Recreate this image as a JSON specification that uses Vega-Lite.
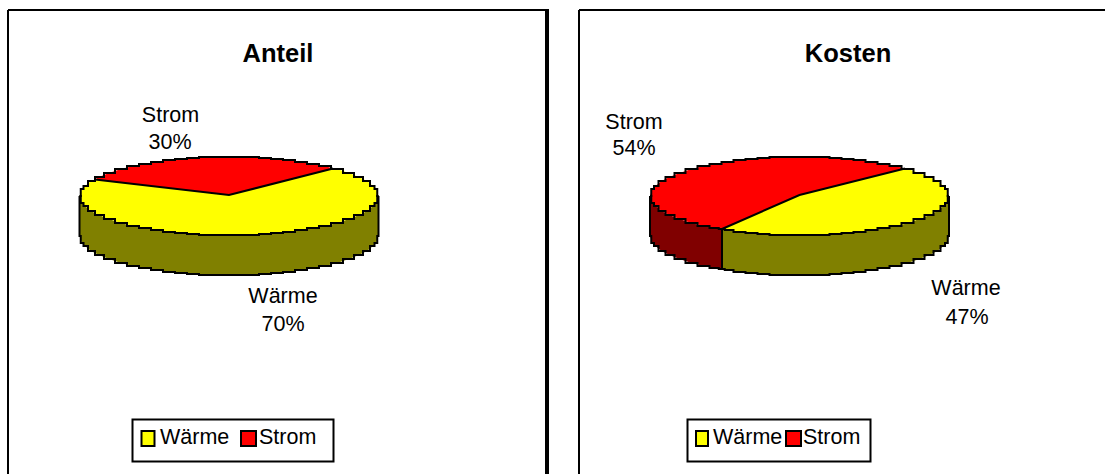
{"$schema":"https://vega.github.io/schema/vega-lite/v6.json","width":1105,"height":474,"autosize":{"type":"none"},"padding":0,"background":"white","config":{"view":{"stroke":null},"font":"Liberation Sans"},
"datasets":{
"slices":[
{"p":"Anteil","part":"Wärme Seite","x":79.5,"y":196,"y2":236},{"p":"Anteil","part":"Wärme Seite","x":82,"y":203,"y2":243},{"p":"Anteil","part":"Wärme Seite","x":85,"y":206,"y2":246},{"p":"Anteil","part":"Wärme Seite","x":91,"y":211,"y2":251},{"p":"Anteil","part":"Wärme Seite","x":99,"y":215,"y2":255},{"p":"Anteil","part":"Wärme Seite","x":109,"y":219,"y2":259},{"p":"Anteil","part":"Wärme Seite","x":121,"y":223,"y2":263},{"p":"Anteil","part":"Wärme Seite","x":133,"y":226,"y2":266},{"p":"Anteil","part":"Wärme Seite","x":145,"y":228,"y2":268},{"p":"Anteil","part":"Wärme Seite","x":157,"y":230,"y2":270},{"p":"Anteil","part":"Wärme Seite","x":169,"y":232,"y2":272},{"p":"Anteil","part":"Wärme Seite","x":181,"y":233,"y2":273},{"p":"Anteil","part":"Wärme Seite","x":193,"y":234,"y2":274},{"p":"Anteil","part":"Wärme Seite","x":205,"y":235,"y2":275},{"p":"Anteil","part":"Wärme Seite","x":217,"y":235,"y2":275},{"p":"Anteil","part":"Wärme Seite","x":229,"y":235,"y2":275},{"p":"Anteil","part":"Wärme Seite","x":241,"y":235,"y2":275},{"p":"Anteil","part":"Wärme Seite","x":253,"y":235,"y2":275},{"p":"Anteil","part":"Wärme Seite","x":265,"y":234,"y2":274},{"p":"Anteil","part":"Wärme Seite","x":277,"y":233,"y2":273},{"p":"Anteil","part":"Wärme Seite","x":289,"y":232,"y2":272},{"p":"Anteil","part":"Wärme Seite","x":301,"y":230,"y2":270},{"p":"Anteil","part":"Wärme Seite","x":313,"y":228,"y2":268},{"p":"Anteil","part":"Wärme Seite","x":325,"y":226,"y2":266},{"p":"Anteil","part":"Wärme Seite","x":337,"y":223,"y2":263},{"p":"Anteil","part":"Wärme Seite","x":349,"y":219,"y2":259},{"p":"Anteil","part":"Wärme Seite","x":359,"y":215,"y2":255},{"p":"Anteil","part":"Wärme Seite","x":367,"y":211,"y2":251},{"p":"Anteil","part":"Wärme Seite","x":373,"y":206,"y2":246},{"p":"Anteil","part":"Wärme Seite","x":376,"y":203,"y2":243},{"p":"Anteil","part":"Wärme Seite","x":378.5,"y":196,"y2":236},
{"p":"Anteil","part":"Wärme","x":79.5,"y":196,"y2":196},{"p":"Anteil","part":"Wärme","x":82,"y":189,"y2":203},{"p":"Anteil","part":"Wärme","x":85,"y":186,"y2":206},{"p":"Anteil","part":"Wärme","x":91,"y":181,"y2":211},{"p":"Anteil","part":"Wärme","x":95,"y":179.5,"y2":213},{"p":"Anteil","part":"Wärme","x":99,"y":180,"y2":215},{"p":"Anteil","part":"Wärme","x":109,"y":181,"y2":219},{"p":"Anteil","part":"Wärme","x":121,"y":182.5,"y2":223},{"p":"Anteil","part":"Wärme","x":133,"y":184,"y2":226},{"p":"Anteil","part":"Wärme","x":145,"y":185,"y2":228},{"p":"Anteil","part":"Wärme","x":157,"y":186.5,"y2":230},{"p":"Anteil","part":"Wärme","x":169,"y":188,"y2":232},{"p":"Anteil","part":"Wärme","x":181,"y":189.5,"y2":233},{"p":"Anteil","part":"Wärme","x":193,"y":191,"y2":234},{"p":"Anteil","part":"Wärme","x":205,"y":192,"y2":235},{"p":"Anteil","part":"Wärme","x":217,"y":193.5,"y2":235},{"p":"Anteil","part":"Wärme","x":229,"y":195,"y2":235},{"p":"Anteil","part":"Wärme","x":241,"y":192,"y2":235},{"p":"Anteil","part":"Wärme","x":253,"y":189,"y2":235},{"p":"Anteil","part":"Wärme","x":265,"y":186,"y2":234},{"p":"Anteil","part":"Wärme","x":277,"y":183,"y2":233},{"p":"Anteil","part":"Wärme","x":289,"y":180,"y2":232},{"p":"Anteil","part":"Wärme","x":301,"y":177,"y2":230},{"p":"Anteil","part":"Wärme","x":313,"y":173.5,"y2":228},{"p":"Anteil","part":"Wärme","x":325,"y":170.5,"y2":226},{"p":"Anteil","part":"Wärme","x":333,"y":168.5,"y2":224},{"p":"Anteil","part":"Wärme","x":337,"y":169,"y2":223},{"p":"Anteil","part":"Wärme","x":349,"y":173,"y2":219},{"p":"Anteil","part":"Wärme","x":359,"y":177,"y2":215},{"p":"Anteil","part":"Wärme","x":367,"y":181,"y2":211},{"p":"Anteil","part":"Wärme","x":373,"y":186,"y2":206},{"p":"Anteil","part":"Wärme","x":376,"y":189,"y2":203},{"p":"Anteil","part":"Wärme","x":378.5,"y":196,"y2":196},
{"p":"Anteil","part":"Strom","x":95,"y":179.5,"y2":179.5},{"p":"Anteil","part":"Strom","x":99,"y":177,"y2":180},{"p":"Anteil","part":"Strom","x":109,"y":173,"y2":181},{"p":"Anteil","part":"Strom","x":121,"y":169,"y2":182.5},{"p":"Anteil","part":"Strom","x":133,"y":166,"y2":184},{"p":"Anteil","part":"Strom","x":145,"y":164,"y2":185},{"p":"Anteil","part":"Strom","x":157,"y":162,"y2":186.5},{"p":"Anteil","part":"Strom","x":169,"y":160,"y2":188},{"p":"Anteil","part":"Strom","x":181,"y":159,"y2":189.5},{"p":"Anteil","part":"Strom","x":193,"y":158,"y2":191},{"p":"Anteil","part":"Strom","x":205,"y":157,"y2":192},{"p":"Anteil","part":"Strom","x":217,"y":157,"y2":193.5},{"p":"Anteil","part":"Strom","x":229,"y":157,"y2":195},{"p":"Anteil","part":"Strom","x":241,"y":157,"y2":192},{"p":"Anteil","part":"Strom","x":253,"y":157,"y2":189},{"p":"Anteil","part":"Strom","x":265,"y":158,"y2":186},{"p":"Anteil","part":"Strom","x":277,"y":159,"y2":183},{"p":"Anteil","part":"Strom","x":289,"y":160,"y2":180},{"p":"Anteil","part":"Strom","x":301,"y":162,"y2":177},{"p":"Anteil","part":"Strom","x":313,"y":164,"y2":173.5},{"p":"Anteil","part":"Strom","x":325,"y":166,"y2":170.5},{"p":"Anteil","part":"Strom","x":333,"y":168.5,"y2":168.5},
{"p":"Kosten","part":"Strom Seite","x":650,"y":196,"y2":236},{"p":"Kosten","part":"Strom Seite","x":652.5,"y":203,"y2":243},{"p":"Kosten","part":"Strom Seite","x":655.5,"y":206,"y2":246},{"p":"Kosten","part":"Strom Seite","x":661.5,"y":211,"y2":251},{"p":"Kosten","part":"Strom Seite","x":669.5,"y":215,"y2":255},{"p":"Kosten","part":"Strom Seite","x":679.5,"y":219,"y2":259},{"p":"Kosten","part":"Strom Seite","x":691.5,"y":223,"y2":263},{"p":"Kosten","part":"Strom Seite","x":703.5,"y":226,"y2":266},{"p":"Kosten","part":"Strom Seite","x":715.5,"y":228,"y2":268},{"p":"Kosten","part":"Strom Seite","x":722,"y":229,"y2":269},
{"p":"Kosten","part":"Wärme Seite","x":722,"y":229,"y2":269},{"p":"Kosten","part":"Wärme Seite","x":727.5,"y":230,"y2":270},{"p":"Kosten","part":"Wärme Seite","x":739.5,"y":232,"y2":272},{"p":"Kosten","part":"Wärme Seite","x":751.5,"y":233,"y2":273},{"p":"Kosten","part":"Wärme Seite","x":763.5,"y":234,"y2":274},{"p":"Kosten","part":"Wärme Seite","x":775.5,"y":235,"y2":275},{"p":"Kosten","part":"Wärme Seite","x":787.5,"y":235,"y2":275},{"p":"Kosten","part":"Wärme Seite","x":799.5,"y":235,"y2":275},{"p":"Kosten","part":"Wärme Seite","x":811.5,"y":235,"y2":275},{"p":"Kosten","part":"Wärme Seite","x":823.5,"y":235,"y2":275},{"p":"Kosten","part":"Wärme Seite","x":835.5,"y":234,"y2":274},{"p":"Kosten","part":"Wärme Seite","x":847.5,"y":233,"y2":273},{"p":"Kosten","part":"Wärme Seite","x":859.5,"y":232,"y2":272},{"p":"Kosten","part":"Wärme Seite","x":871.5,"y":230,"y2":270},{"p":"Kosten","part":"Wärme Seite","x":883.5,"y":228,"y2":268},{"p":"Kosten","part":"Wärme Seite","x":895.5,"y":226,"y2":266},{"p":"Kosten","part":"Wärme Seite","x":907.5,"y":223,"y2":263},{"p":"Kosten","part":"Wärme Seite","x":919.5,"y":219,"y2":259},{"p":"Kosten","part":"Wärme Seite","x":929.5,"y":215,"y2":255},{"p":"Kosten","part":"Wärme Seite","x":937.5,"y":211,"y2":251},{"p":"Kosten","part":"Wärme Seite","x":943.5,"y":206,"y2":246},{"p":"Kosten","part":"Wärme Seite","x":946.5,"y":203,"y2":243},{"p":"Kosten","part":"Wärme Seite","x":949,"y":196,"y2":236},
{"p":"Kosten","part":"Wärme","x":722,"y":229,"y2":229},{"p":"Kosten","part":"Wärme","x":727.5,"y":226.5,"y2":230},{"p":"Kosten","part":"Wärme","x":739.5,"y":221,"y2":232},{"p":"Kosten","part":"Wärme","x":751.5,"y":216,"y2":233},{"p":"Kosten","part":"Wärme","x":763.5,"y":211,"y2":234},{"p":"Kosten","part":"Wärme","x":775.5,"y":205.5,"y2":235},{"p":"Kosten","part":"Wärme","x":787.5,"y":200.5,"y2":235},{"p":"Kosten","part":"Wärme","x":799.5,"y":195,"y2":235},{"p":"Kosten","part":"Wärme","x":811.5,"y":192,"y2":235},{"p":"Kosten","part":"Wärme","x":823.5,"y":189,"y2":235},{"p":"Kosten","part":"Wärme","x":835.5,"y":186,"y2":234},{"p":"Kosten","part":"Wärme","x":847.5,"y":183,"y2":233},{"p":"Kosten","part":"Wärme","x":859.5,"y":180,"y2":232},{"p":"Kosten","part":"Wärme","x":871.5,"y":177,"y2":230},{"p":"Kosten","part":"Wärme","x":883.5,"y":174,"y2":228},{"p":"Kosten","part":"Wärme","x":895.5,"y":171,"y2":226},{"p":"Kosten","part":"Wärme","x":905,"y":168.5,"y2":224},{"p":"Kosten","part":"Wärme","x":907.5,"y":169,"y2":223},{"p":"Kosten","part":"Wärme","x":919.5,"y":173,"y2":219},{"p":"Kosten","part":"Wärme","x":929.5,"y":177,"y2":215},{"p":"Kosten","part":"Wärme","x":937.5,"y":181,"y2":211},{"p":"Kosten","part":"Wärme","x":943.5,"y":186,"y2":206},{"p":"Kosten","part":"Wärme","x":946.5,"y":189,"y2":203},{"p":"Kosten","part":"Wärme","x":949,"y":196,"y2":196},
{"p":"Kosten","part":"Strom","x":650,"y":196,"y2":196},{"p":"Kosten","part":"Strom","x":652.5,"y":189,"y2":203},{"p":"Kosten","part":"Strom","x":655.5,"y":186,"y2":206},{"p":"Kosten","part":"Strom","x":661.5,"y":181,"y2":211},{"p":"Kosten","part":"Strom","x":669.5,"y":177,"y2":215},{"p":"Kosten","part":"Strom","x":679.5,"y":173,"y2":219},{"p":"Kosten","part":"Strom","x":691.5,"y":169,"y2":223},{"p":"Kosten","part":"Strom","x":703.5,"y":166,"y2":226},{"p":"Kosten","part":"Strom","x":715.5,"y":164,"y2":228},{"p":"Kosten","part":"Strom","x":722,"y":163,"y2":229},{"p":"Kosten","part":"Strom","x":727.5,"y":162,"y2":226.5},{"p":"Kosten","part":"Strom","x":739.5,"y":160,"y2":221},{"p":"Kosten","part":"Strom","x":751.5,"y":159,"y2":216},{"p":"Kosten","part":"Strom","x":763.5,"y":158,"y2":211},{"p":"Kosten","part":"Strom","x":775.5,"y":157,"y2":205.5},{"p":"Kosten","part":"Strom","x":787.5,"y":157,"y2":200.5},{"p":"Kosten","part":"Strom","x":799.5,"y":157,"y2":195},{"p":"Kosten","part":"Strom","x":811.5,"y":157,"y2":192},{"p":"Kosten","part":"Strom","x":823.5,"y":157,"y2":189},{"p":"Kosten","part":"Strom","x":835.5,"y":158,"y2":186},{"p":"Kosten","part":"Strom","x":847.5,"y":159,"y2":183},{"p":"Kosten","part":"Strom","x":859.5,"y":160,"y2":180},{"p":"Kosten","part":"Strom","x":871.5,"y":162,"y2":177},{"p":"Kosten","part":"Strom","x":883.5,"y":164,"y2":174},{"p":"Kosten","part":"Strom","x":895.5,"y":166,"y2":171},{"p":"Kosten","part":"Strom","x":905,"y":168.5,"y2":168.5}
],
"topRim":[
{"p":"Anteil","x":79.5,"y":196},{"p":"Anteil","x":82,"y":189},{"p":"Anteil","x":85,"y":186},{"p":"Anteil","x":91,"y":181},{"p":"Anteil","x":99,"y":177},{"p":"Anteil","x":109,"y":173},{"p":"Anteil","x":121,"y":169},{"p":"Anteil","x":133,"y":166},{"p":"Anteil","x":145,"y":164},{"p":"Anteil","x":157,"y":162},{"p":"Anteil","x":169,"y":160},{"p":"Anteil","x":181,"y":159},{"p":"Anteil","x":193,"y":158},{"p":"Anteil","x":205,"y":157},{"p":"Anteil","x":217,"y":157},{"p":"Anteil","x":229,"y":157},{"p":"Anteil","x":241,"y":157},{"p":"Anteil","x":253,"y":157},{"p":"Anteil","x":265,"y":158},{"p":"Anteil","x":277,"y":159},{"p":"Anteil","x":289,"y":160},{"p":"Anteil","x":301,"y":162},{"p":"Anteil","x":313,"y":164},{"p":"Anteil","x":325,"y":166},{"p":"Anteil","x":337,"y":169},{"p":"Anteil","x":349,"y":173},{"p":"Anteil","x":359,"y":177},{"p":"Anteil","x":367,"y":181},{"p":"Anteil","x":373,"y":186},{"p":"Anteil","x":376,"y":189},{"p":"Anteil","x":378.5,"y":196},
{"p":"Kosten","x":650,"y":196},{"p":"Kosten","x":652.5,"y":189},{"p":"Kosten","x":655.5,"y":186},{"p":"Kosten","x":661.5,"y":181},{"p":"Kosten","x":669.5,"y":177},{"p":"Kosten","x":679.5,"y":173},{"p":"Kosten","x":691.5,"y":169},{"p":"Kosten","x":703.5,"y":166},{"p":"Kosten","x":715.5,"y":164},{"p":"Kosten","x":727.5,"y":162},{"p":"Kosten","x":739.5,"y":160},{"p":"Kosten","x":751.5,"y":159},{"p":"Kosten","x":763.5,"y":158},{"p":"Kosten","x":775.5,"y":157},{"p":"Kosten","x":787.5,"y":157},{"p":"Kosten","x":799.5,"y":157},{"p":"Kosten","x":811.5,"y":157},{"p":"Kosten","x":823.5,"y":157},{"p":"Kosten","x":835.5,"y":158},{"p":"Kosten","x":847.5,"y":159},{"p":"Kosten","x":859.5,"y":160},{"p":"Kosten","x":871.5,"y":162},{"p":"Kosten","x":883.5,"y":164},{"p":"Kosten","x":895.5,"y":166},{"p":"Kosten","x":907.5,"y":169},{"p":"Kosten","x":919.5,"y":173},{"p":"Kosten","x":929.5,"y":177},{"p":"Kosten","x":937.5,"y":181},{"p":"Kosten","x":943.5,"y":186},{"p":"Kosten","x":946.5,"y":189},{"p":"Kosten","x":949,"y":196}
],
"sliceEdges":[{"p":"Anteil","x":95,"y":179.5},{"p":"Anteil","x":229,"y":195},{"p":"Anteil","x":333,"y":168.5},{"p":"Kosten","x":722,"y":229},{"p":"Kosten","x":799.5,"y":195},{"p":"Kosten","x":905,"y":168.5}],
"sideEdges":[{"x":79.5,"x2":79.5,"y":196,"y2":237},{"x":378.5,"x2":378.5,"y":196,"y2":237},{"x":650,"x2":650,"y":196,"y2":237},{"x":949,"x2":949,"y":196,"y2":237},{"x":722,"x2":722,"y":229,"y2":270}],
"frames":[{"x":8,"x2":548,"y":10,"y2":10},{"x":8,"x2":8,"y":10,"y2":474},{"x":579,"x2":1105,"y":10,"y2":10},{"x":579,"x2":579,"y":10,"y2":474}],
"shadow":[{"x":547,"x2":547,"y":9,"y2":474}],
"boxes":[{"x":132.5,"x2":333.5,"y":419.5,"y2":461.5},{"x":687.5,"x2":870.5,"y":419.5,"y2":461.5}],
"swatches":[{"part":"Wärme","x":141.5,"x2":154.5,"y":431,"y2":446},{"part":"Strom","x":241,"x2":256,"y":431,"y2":446},{"part":"Wärme","x":696,"x2":708,"y":431,"y2":446},{"part":"Strom","x":786,"x2":801,"y":431,"y2":446}],
"titles":[{"t":"Anteil","x":278,"y":62},{"t":"Kosten","x":848,"y":62}],
"labels":[{"t":"Strom","x":170.5,"y":122},{"t":"30%","x":170,"y":149},{"t":"Wärme","x":283,"y":303},{"t":"70%","x":283,"y":331},{"t":"Strom","x":634,"y":129},{"t":"54%","x":634,"y":155},{"t":"Wärme","x":966,"y":295},{"t":"47%","x":967,"y":324}],
"legend":[{"t":"Wärme","x":160,"y":444},{"t":"Strom","x":259,"y":444},{"t":"Wärme","x":713,"y":444},{"t":"Strom","x":803,"y":444}]
},
"encoding":{
"x":{"field":"x","type":"quantitative","scale":{"domain":[0,1105],"nice":false,"zero":false},"axis":null},
"y":{"field":"y","type":"quantitative","scale":{"domain":[474,0],"nice":false,"zero":false},"axis":null}
},
"layer":[
{"data":{"name":"frames"},"mark":{"type":"rule","stroke":"black","strokeWidth":2},"encoding":{"x2":{"field":"x2"},"y2":{"field":"y2"}}},
{"data":{"name":"shadow"},"mark":{"type":"rule","stroke":"black","strokeWidth":4},"encoding":{"x2":{"field":"x2"},"y2":{"field":"y2"}}},
{"data":{"name":"slices"},"mark":{"type":"area"},"encoding":{"y2":{"field":"y2"},"detail":{"field":"p"},"fill":{"field":"part","type":"nominal","scale":{"domain":["Wärme","Strom","Wärme Seite","Strom Seite"],"range":["#ffff00","#ff0000","#808000","#800000"]},"legend":null}}},
{"data":{"name":"topRim"},"mark":{"type":"line","interpolate":"step","stroke":"black","strokeWidth":2},"encoding":{"detail":{"field":"p"}}},
{"data":{"name":"slices"},"transform":[{"filter":"indexof(datum.part,'Seite')>=0"}],"mark":{"type":"line","interpolate":"step","stroke":"black","strokeWidth":2},"encoding":{"detail":{"field":"p"}}},
{"data":{"name":"slices"},"transform":[{"filter":"indexof(datum.part,'Seite')>=0"}],"mark":{"type":"line","interpolate":"step","stroke":"black","strokeWidth":2},"encoding":{"y":{"field":"y2","type":"quantitative"},"detail":{"field":"p"}}},
{"data":{"name":"sliceEdges"},"mark":{"type":"line","stroke":"black","strokeWidth":2},"encoding":{"detail":{"field":"p"}}},
{"data":{"name":"sideEdges"},"mark":{"type":"rule","stroke":"black","strokeWidth":2},"encoding":{"x2":{"field":"x2"},"y2":{"field":"y2"}}},
{"data":{"name":"boxes"},"mark":{"type":"rect","fill":"white","stroke":"black","strokeWidth":2},"encoding":{"x2":{"field":"x2"},"y2":{"field":"y2"}}},
{"data":{"name":"swatches"},"mark":{"type":"rect","stroke":"black","strokeWidth":2},"encoding":{"x2":{"field":"x2"},"y2":{"field":"y2"},"fill":{"field":"part","type":"nominal","scale":{"domain":["Wärme","Strom","Wärme Seite","Strom Seite"],"range":["#ffff00","#ff0000","#808000","#800000"]},"legend":null}}},
{"data":{"name":"titles"},"mark":{"type":"text","font":"Liberation Sans","fontSize":25.5,"fontWeight":"bold","align":"center","baseline":"alphabetic","fill":"black"},"encoding":{"text":{"field":"t"}}},
{"data":{"name":"labels"},"mark":{"type":"text","font":"Liberation Sans","fontSize":21.5,"align":"center","baseline":"alphabetic","fill":"black"},"encoding":{"text":{"field":"t"}}},
{"data":{"name":"legend"},"mark":{"type":"text","font":"Liberation Sans","fontSize":21.5,"align":"left","baseline":"alphabetic","fill":"black"},"encoding":{"text":{"field":"t"}}}
]}
